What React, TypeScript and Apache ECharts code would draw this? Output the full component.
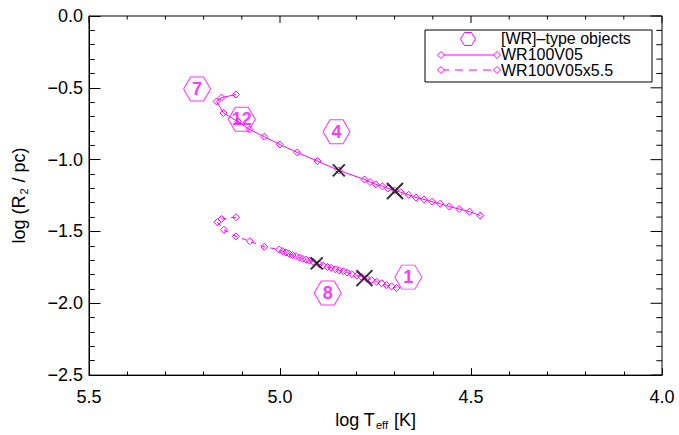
import React, { useEffect, useRef } from "react";
import * as echarts from "echarts";

// Evolutionary track of the WR100V05 model (solid)
const upperLogT = [5.115, 5.153, 5.166, 5.148, 5.110, 5.080, 5.041, 5.000, 4.955, 4.902, 4.846, 4.779, 4.764, 4.749, 4.732, 4.717, 4.700, 4.684, 4.663, 4.644, 4.623, 4.602, 4.581, 4.557, 4.531, 4.504, 4.476];
const upperLogR = [-0.547, -0.568, -0.595, -0.675, -0.735, -0.790, -0.840, -0.895, -0.950, -1.010, -1.075, -1.138, -1.156, -1.172, -1.186, -1.200, -1.214, -1.227, -1.245, -1.264, -1.277, -1.293, -1.307, -1.326, -1.344, -1.362, -1.389];

// Track of the WR100V05x5.5 model (dashed)
const lowerLogT = [5.115, 5.153, 5.164, 5.147, 5.115, 5.079, 5.041, 5.002, 4.993, 4.984, 4.976, 4.967, 4.958, 4.949, 4.941, 4.932, 4.923, 4.913, 4.897, 4.887, 4.876, 4.866, 4.855, 4.845, 4.834, 4.824, 4.812, 4.799, 4.787, 4.773, 4.760, 4.747, 4.734, 4.721, 4.708, 4.695];
const lowerLogR = [-1.401, -1.413, -1.435, -1.488, -1.534, -1.568, -1.607, -1.626, -1.637, -1.646, -1.655, -1.664, -1.671, -1.681, -1.690, -1.696, -1.703, -1.712, -1.729, -1.738, -1.747, -1.753, -1.763, -1.770, -1.777, -1.786, -1.797, -1.806, -1.815, -1.829, -1.839, -1.850, -1.861, -1.873, -1.882, -1.894];

// Marked model epochs (black crosses)
const smallCrossLogT = [4.846, 4.904];
const smallCrossLogR = [-1.075, -1.722];
const bigCrossLogT = [4.699, 4.779];
const bigCrossLogR = [-1.218, -1.825];

// [WR]-type objects
const wrNames = ["7", "12", "4", "1", "8"];
const wrLogT = [5.217, 5.100, 4.852, 4.664, 4.875];
const wrLogR = [-0.508, -0.719, -0.806, -1.818, -1.928];

// Axis ranges and tick spacing
const xTicks = [4.0, 4.5, 5.0, 5.5];
const yTicks = [-2.5, -2.0, -1.5, -1.0, -0.5, 0.0];
const MAJOR_STEP = 0.5;
const MINOR_PER_MAJOR = 5;

const MAGENTA = "#ff00ff";
const FONT = "Liberation Sans";

const pairs = (xs: number[], ys: number[]) => xs.map((x, i) => [x, ys[i]]);

const HEX_PATH = "path://M0,12 L7,0 L20,0 L27,12 L20,24 L7,24 Z";
const CROSS_PATH = "path://M0,0 L10,10 M10,0 L0,10";

const X_MIN = xTicks[0];
const X_MAX = xTicks[xTicks.length - 1];
const Y_MIN = yTicks[0];
const Y_MAX = yTicks[yTicks.length - 1];

// Tick positions for the top and right sides of the frame:
// [logT, logR, kind]; kind 0 = x major, 1 = x minor, 2 = y major, 3 = y minor.
function oppositeTicks(): number[][] {
  const out: number[][] = [];
  const nx = Math.round(((X_MAX - X_MIN) / MAJOR_STEP) * MINOR_PER_MAJOR);
  for (let i = 0; i <= nx; i++) {
    const v = +(X_MIN + (i * MAJOR_STEP) / MINOR_PER_MAJOR).toFixed(6);
    out.push([v, Y_MAX, i % MINOR_PER_MAJOR === 0 ? 0 : 1]);
  }
  const ny = Math.round(((Y_MAX - Y_MIN) / MAJOR_STEP) * MINOR_PER_MAJOR);
  for (let i = 0; i <= ny; i++) {
    const v = +(Y_MIN + (i * MAJOR_STEP) / MINOR_PER_MAJOR).toFixed(6);
    out.push([X_MIN, v, i % MINOR_PER_MAJOR === 0 ? 2 : 3]);
  }
  return out;
}

const X_MAJOR_LEN = 7;
const X_MINOR_LEN = 3.6;
const Y_MAJOR_LEN = 11.5;
const Y_MINOR_LEN = 5.7;

export default function App() {
  const ref = useRef<HTMLDivElement>(null);

  useEffect(() => {
    if (!ref.current) return;
    const chart = echarts.init(ref.current, undefined, { renderer: "svg" });

    const legendX = 425;
    const legendY = 30;
    const hexCx = 468;
    const hexCy = 39;
    const lineX0 = 441;
    const lineX1 = 497;
    const row2 = 55;
    const row3 = 70;
    const diamond = (cx: number, cy: number) => ({
      type: "polygon",
      shape: { points: [[cx - 3.5, cy], [cx, cy - 3.5], [cx + 3.5, cy], [cx, cy + 3.5]] },
      style: { fill: "#fff", stroke: MAGENTA, lineWidth: 1 },
    });
    const legendText = (text: string, y: number) => ({
      type: "text",
      x: 501,
      y,
      style: { text, fontFamily: FONT, fontSize: 16, fill: "#000", verticalAlign: "middle" },
    });

    chart.setOption({
      animation: false,
      textStyle: { fontFamily: FONT },
      grid: {
        left: 89,
        right: 17,
        top: 16,
        bottom: 55,
        show: true,
        borderColor: "#000",
        borderWidth: 1,
        backgroundColor: "transparent",
      },
      xAxis: {
        type: "value",
        min: X_MIN,
        max: X_MAX,
        interval: MAJOR_STEP,
        inverse: true,
        splitLine: { show: false },
        axisLine: { show: true, onZero: false, lineStyle: { color: "#000", width: 1 } },
        axisTick: { show: true, inside: true, length: X_MAJOR_LEN, lineStyle: { color: "#000", width: 1 } },
        minorTick: { show: true, splitNumber: MINOR_PER_MAJOR, length: X_MINOR_LEN, lineStyle: { color: "#000", width: 1 } },
        name: "log T{s|eff} [K]",
        nameLocation: "middle",
        nameGap: 33,
        nameTextStyle: {
          fontFamily: FONT,
          fontSize: 18,
          color: "#000",
          rich: { s: { fontFamily: FONT, fontSize: 11, color: "#000", padding: [9, 1, 0, 1] } },
        },
        axisLabel: {
          fontFamily: FONT,
          fontSize: 18,
          color: "#000",
          margin: 13,
          formatter: (v: number) => v.toFixed(1),
        },
      },
      yAxis: {
        type: "value",
        min: Y_MIN,
        max: Y_MAX,
        interval: MAJOR_STEP,
        splitLine: { show: false },
        axisLine: { show: true, onZero: false, lineStyle: { color: "#000", width: 1 } },
        axisTick: { show: true, inside: true, length: Y_MAJOR_LEN, lineStyle: { color: "#000", width: 1 } },
        minorTick: { show: true, splitNumber: MINOR_PER_MAJOR, length: Y_MINOR_LEN, lineStyle: { color: "#000", width: 1 } },
        name: "log (R{s|2} / pc)",
        nameLocation: "middle",
        nameRotate: 90,
        nameGap: 60,
        nameTextStyle: {
          fontFamily: FONT,
          fontSize: 18,
          color: "#000",
          rich: { s: { fontFamily: FONT, fontSize: 11, color: "#000", padding: [9, 1, 0, 1] } },
        },
        axisLabel: {
          fontFamily: FONT,
          fontSize: 18,
          color: "#000",
          margin: 6,
          formatter: (v: number) => (v < 0 ? "\u2212" + Math.abs(v).toFixed(1) : v.toFixed(1)),
        },
      },
      series: [
        {
          // inward ticks along the top and right sides of the frame
          type: "custom",
          data: oppositeTicks(),
          renderItem: (_params: any, api: any) => {
            const tx = api.value(0);
            const ty = api.value(1);
            const kind = api.value(2);
            const p = api.coord([tx, ty]);
            if (kind < 2) {
              const len = kind === 0 ? X_MAJOR_LEN : X_MINOR_LEN;
              return {
                type: "rect",
                shape: { x: p[0] - 0.5, y: p[1], width: 1, height: len },
                style: { fill: "#000" },
              };
            }
            const len = kind === 2 ? Y_MAJOR_LEN : Y_MINOR_LEN;
            return {
              type: "rect",
              shape: { x: p[0] - len, y: p[1] - 0.5, width: len, height: 1 },
              style: { fill: "#000" },
            };
          },
        },
        {
          name: "[WR]-type objects",
          type: "scatter",
          data: wrNames.map((n, i) => ({ name: n, value: [wrLogT[i], wrLogR[i]] })),
          symbol: HEX_PATH,
          symbolSize: [27, 24],
          symbolKeepAspect: false,
          itemStyle: { color: "rgba(255,255,255,0)", borderColor: MAGENTA, borderWidth: 1 },
          label: {
            show: true,
            position: "inside",
            formatter: "{b}",
            color: MAGENTA,
            fontFamily: FONT,
            fontWeight: "bold",
            fontSize: 18,
          },
          z: 2,
        },
        {
          name: "WR100V05",
          type: "line",
          data: pairs(upperLogT, upperLogR),
          symbol: "diamond",
          symbolSize: 7,
          showAllSymbol: true,
          lineStyle: { color: MAGENTA, width: 1 },
          itemStyle: { color: "rgba(255,255,255,0)", borderColor: MAGENTA, borderWidth: 1 },
          z: 3,
        },
        {
          name: "WR100V05x5.5",
          type: "line",
          data: pairs(lowerLogT, lowerLogR),
          symbol: "diamond",
          symbolSize: 7,
          showAllSymbol: true,
          lineStyle: { color: MAGENTA, width: 1, type: [5, 5] },
          itemStyle: { color: "rgba(255,255,255,0)", borderColor: MAGENTA, borderWidth: 1 },
          z: 3,
        },
        {
          type: "scatter",
          data: pairs(smallCrossLogT, smallCrossLogR),
          symbol: CROSS_PATH,
          symbolSize: 12,
          itemStyle: { color: "rgba(0,0,0,0)", borderColor: "#000", borderWidth: 2 },
          z: 4,
        },
        {
          type: "scatter",
          data: pairs(bigCrossLogT, bigCrossLogR),
          symbol: CROSS_PATH,
          symbolSize: 16,
          itemStyle: { color: "rgba(0,0,0,0)", borderColor: "#000", borderWidth: 2 },
          z: 4,
        },
      ],
      graphic: [
        {
          type: "group",
          z: 100,
          children: [
            {
              type: "rect",
              shape: { x: legendX, y: legendY, width: 227, height: 52 },
              style: { fill: "#fff", stroke: "#000", lineWidth: 1 },
            },
            {
              type: "polygon",
              shape: {
                points: [
                  [hexCx - 7.5, hexCy],
                  [hexCx - 3.5, hexCy - 6.5],
                  [hexCx + 3.5, hexCy - 6.5],
                  [hexCx + 7.5, hexCy],
                  [hexCx + 3.5, hexCy + 6.5],
                  [hexCx - 3.5, hexCy + 6.5],
                ],
              },
              style: { fill: "#fff", stroke: MAGENTA, lineWidth: 1 },
            },
            {
              type: "line",
              shape: { x1: lineX0, y1: row2, x2: lineX1, y2: row2 },
              style: { stroke: MAGENTA, lineWidth: 1 },
            },
            diamond(lineX0, row2),
            diamond(lineX1, row2),
            {
              type: "line",
              shape: { x1: lineX0, y1: row3, x2: lineX1, y2: row3 },
              style: { stroke: MAGENTA, lineWidth: 1, lineDash: [8, 6] },
            },
            diamond(lineX0, row3),
            diamond(lineX1, row3),
            legendText("[WR]\u2013type objects", 38),
            legendText("WR100V05", 54),
            legendText("WR100V05x5.5", 70),
          ],
        },
      ],
    });

    return () => chart.dispose();
  }, []);

  return (
    <div
      ref={ref}
      style={{ position: "absolute", left: 0, top: 0, width: 679, height: 435, background: "#fff" }}
    />
  );
}
